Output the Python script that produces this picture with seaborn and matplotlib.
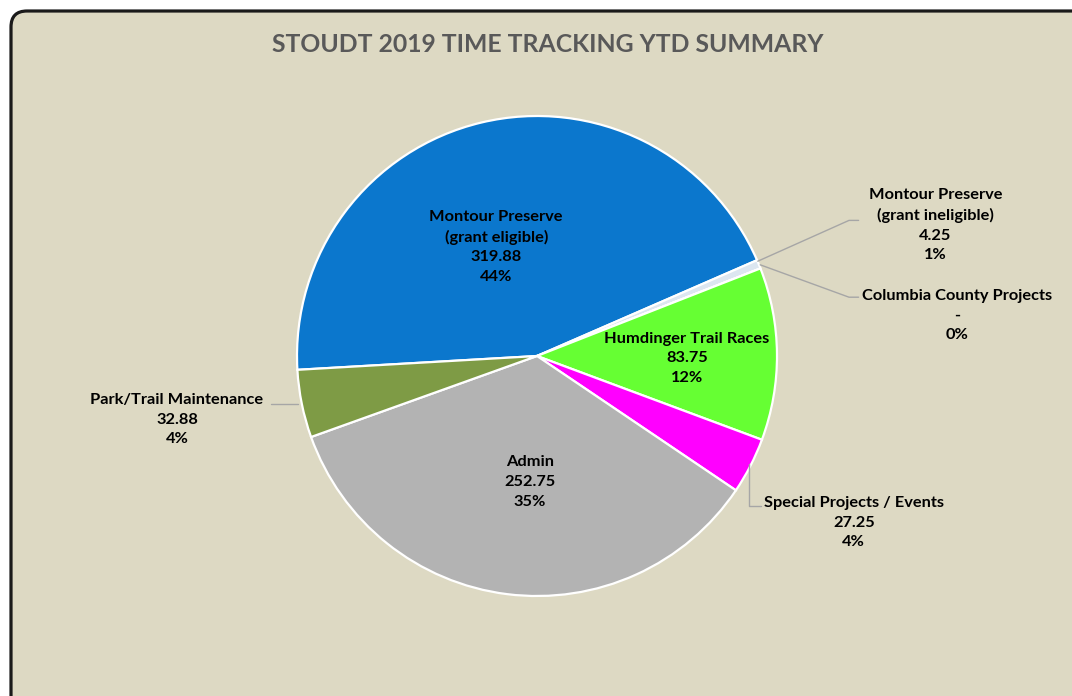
import matplotlib
matplotlib.use("Agg")
import matplotlib.pyplot as plt
from matplotlib.patches import FancyBboxPatch
from matplotlib.transforms import IdentityTransform
import seaborn as sns

sns.set_style("white")
plt.rcParams["font.family"] = ["Lato", "DejaVu Sans"]

# data, in pie order (clockwise from the left edge)
categories = [
    "Montour Preserve\n(grant eligible)",
    "Montour Preserve\n(grant ineligible)",
    "Columbia County Projects",
    "Humdinger Trail Races",
    "Special Projects / Events",
    "Admin",
    "Park/Trail Maintenance",
]
hours = [319.88, 4.25, 0.0, 83.75, 27.25, 252.75, 32.88]
pct_labels = ["44%", "1%", "0%", "12%", "4%", "35%", "4%"]
title = "STOUDT 2019 TIME TRACKING YTD SUMMARY"

colors = ["#0B77CD", "#DCE6F0", "#C0504D", "#66FF33", "#FF00FF", "#B3B3B3", "#7E9B45"]

# label placement (data units, pie radius = 1) and leader lines
label_pos = [(-0.17, 0.455), (1.66, 0.545), (1.75, 0.17), (0.625, -0.01),
             (1.32, -0.695), (-0.03, -0.525), (-1.50, -0.265)]
leaders = {
    1: [(0.92, 0.395), (1.30, 0.565), (1.34, 0.565)],
    2: [(0.93, 0.38), (1.30, 0.245), (1.34, 0.245)],
    4: [(0.885, -0.45), (0.885, -0.625), (0.935, -0.625)],
    6: [(-1.11, -0.20), (-0.995, -0.20)],
}

fig = plt.figure(figsize=(10.72, 6.96), dpi=100)
fig.patch.set_facecolor("white")

frame = FancyBboxPatch((11, -40), 1120, 725, boxstyle="round,pad=0,rounding_size=16",
                       transform=IdentityTransform(), facecolor="#DDD9C3",
                       edgecolor="#1A1A1A", linewidth=2.3, zorder=-10)
fig.patches.append(frame)

fig.text(548 / 1072, 1 - 44 / 696, title, ha="center", va="center",
         fontsize=17.8, fontweight="bold", color="#595959")

r_px = 240
cx, cy = 537, 356
ax = fig.add_axes([(cx - r_px) / 1072, (696 - cy - r_px) / 696, 2 * r_px / 1072, 2 * r_px / 696])
ax.set_zorder(5)
ax.axis("off")

ax.pie(hours, colors=colors, startangle=183.3, counterclock=False, radius=1,
       wedgeprops=dict(edgecolor="white", linewidth=1.6))
ax.set_xlim(-1, 1)
ax.set_ylim(-1, 1)
ax.set_aspect("equal")

for i, (name, v, p) in enumerate(zip(categories, hours, pct_labels)):
    val = "-" if v == 0 else f"{v:.2f}"
    x, y = label_pos[i]
    ax.text(x, y, f"{name}\n{val}\n{p}", ha="center", va="center", fontsize=11.8,
            fontweight="bold", color="black", linespacing=1.5, clip_on=False)

for pts in leaders.values():
    xs, ys = zip(*pts)
    ax.plot(xs, ys, color="#A6A6A6", linewidth=1, clip_on=False)

fig.savefig("out.png", dpi=100)
